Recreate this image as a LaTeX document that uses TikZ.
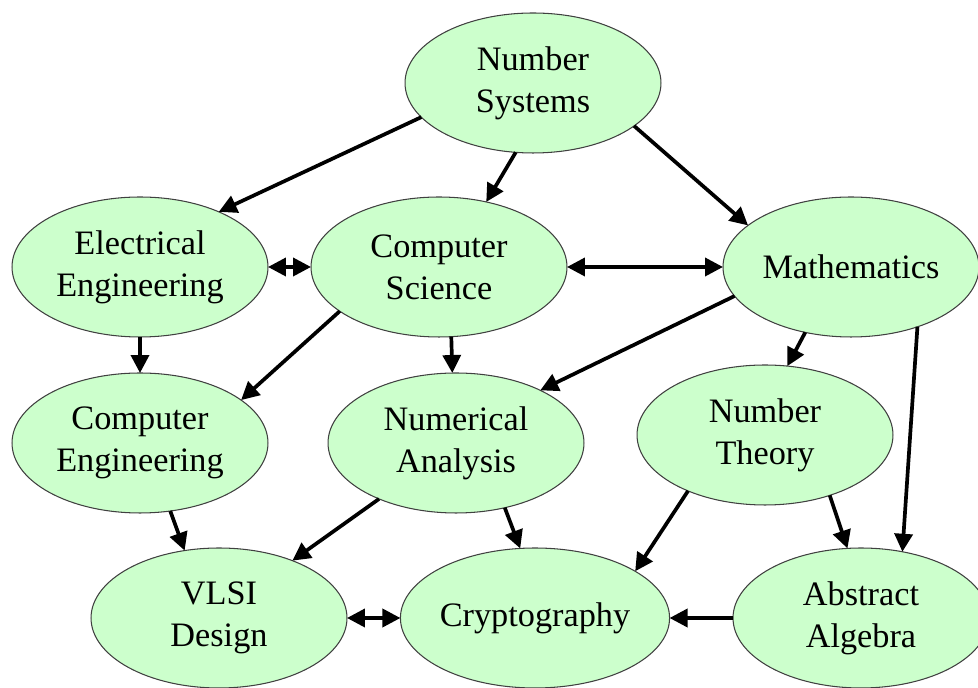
\documentclass[tikz,border=0pt]{standalone}
\usepackage{fontspec}
\setmainfont{Liberation Serif}
\usepackage{tikz}
\usetikzlibrary{arrows.meta, positioning, shapes.geometric}
\definecolor{mint}{HTML}{CCFFCC}

\begin{document}
\begin{tikzpicture}[
    x=0.02cm, y=-0.02cm,
    topic/.style={ellipse, draw=black!75, line width=0.6pt, fill=mint, minimum width=5.12cm, minimum height=2.8cm, inner sep=0pt, outer sep=0pt, align=center, font=\fontsize{19.5}{24}\selectfont},
    link/.style={-{Triangle[length=0.36cm, width=0.36cm]}, line width=2.1pt},
    both/.style={{Triangle[length=0.36cm, width=0.36cm]}-{Triangle[length=0.36cm, width=0.36cm]}, line width=2.1pt},
    ]
    \useasboundingbox (0,0) rectangle (978,688);

    % Number Systems (top)
    \node[topic] (ns) at (533, 83) {Number\\Systems};

    % Second row
    \node[topic] (ee) at (140, 267) {Electrical\\Engineering};
    \node[topic] (cs) at (439, 267) {Computer\\Science};
    \node[topic] (math) at (851, 267) {Mathematics};

    % Third row
    \node[topic] (ce) at (140, 443) {Computer\\Engineering};
    \node[topic] (na) at (456, 443) {Numerical\\Analysis};
    \node[topic] (nt) at (765, 435) {Number\\Theory};

    % Bottom row
    \node[topic] (vlsi) at (219, 618) {VLSI\\Design};
    \node[topic] (crypt) at (535, 618) {Cryptography};
    \node[topic] (alg) at (861, 618) {Abstract\\Algebra};

    % Arrows out of Number Systems
    \draw[link] (ns.197) -- (ee.35);
    \draw[link] (ns.256) -- (cs.54);
    \draw[link] (ns.337) -- (math.158);

    % Two-way links in the second row
    \draw[both] (ee.east) -- (cs.west);
    \draw[both] (cs.east) -- (math.west);

    % Second row -> third row
    \draw[link] (ee.south) -- (ce.north);
    \draw[link] (cs.204) -- (ce.23);
    \draw[link] (cs.280) -- (na.93);
    \draw[link] (math.194) -- (na.32);
    \draw[link] (math.235) -- (nt.72);
    \draw[link] (math.318) -- (alg.58);

    % Third row -> bottom row
    \draw[link] (ce.294) -- (vlsi.117);
    \draw[link] (na.216) -- (vlsi.38);
    \draw[link] (na.307) -- (crypt.102);
    \draw[link] (nt.216) -- (crypt.25);
    \draw[link] (nt.317) -- (alg.101);

    % Bottom row
    \draw[link] (alg.west) -- (crypt.east);
    \draw[both] (vlsi.east) -- (crypt.west);
\end{tikzpicture}
\end{document}
